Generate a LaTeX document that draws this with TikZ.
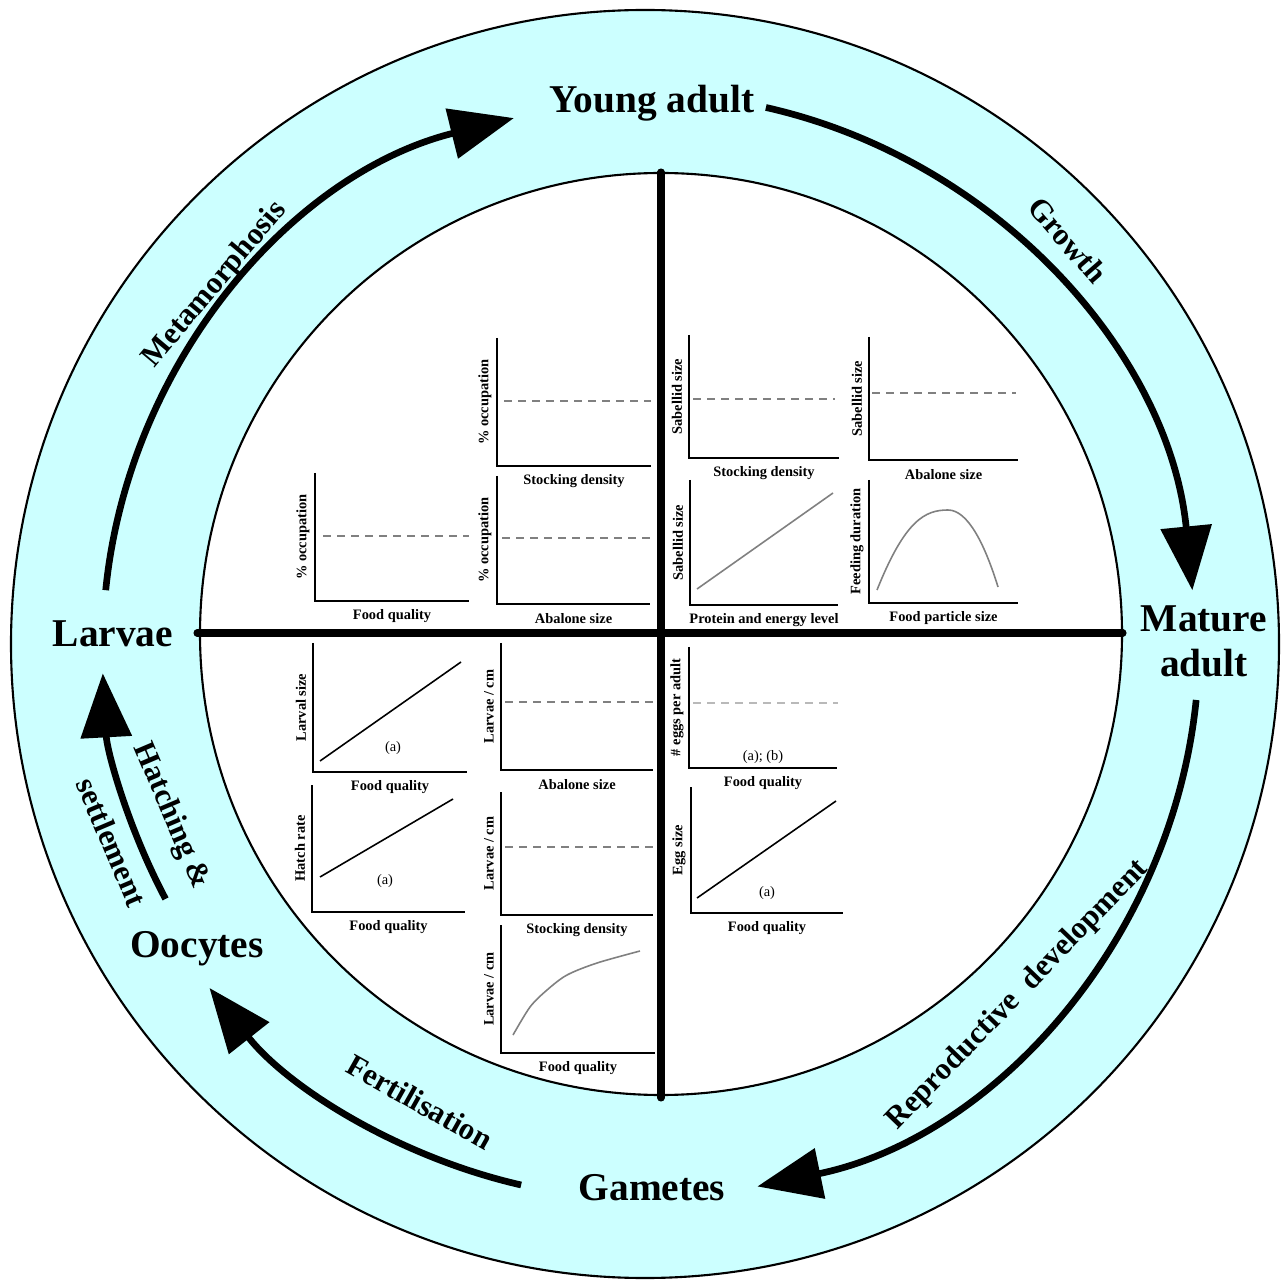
\documentclass[tikz,border=0pt]{standalone}
\usepackage{fontspec}
\setmainfont{Liberation Serif}
\usetikzlibrary{arrows.meta}
\definecolor{ringcyan}{RGB}{204,255,255}

\begin{document}
\begin{tikzpicture}[x=0.01cm, y=-0.01cm,
    stage/.style={font=\fontsize{11.2}{12.8}\selectfont\bfseries, align=center, inner sep=0pt},
    arclab/.style={font=\fontsize{8.8}{10}\selectfont\bfseries, inner sep=0pt},
    xlab/.style={font=\fontsize{4.1}{5}\selectfont\bfseries, inner sep=0pt},
    ylab/.style={xlab, rotate=90},
    note/.style={font=\fontsize{4.1}{5}\selectfont, inner sep=0pt},
    axis/.style={line width=0.55pt},
    flat/.style={line width=0.55pt, gray, dash pattern=on 0.08cm off 0.06cm},
    trend/.style={line width=0.45pt},
    cyc/.style={line width=1.9pt, -{Triangle[length=0.64cm, width=0.5cm]}},
    cross/.style={line width=2pt, line cap=round}]

  \useasboundingbox (0,0) rectangle (1286,1280);

  % rings and quadrants
  \filldraw[fill=ringcyan, line width=0.6pt] (645,644) circle[radius=634];
  \filldraw[fill=white, line width=0.6pt] (661,634) circle[radius=461];
  \draw[cross] (661,172) -- (661,1098);
  \draw[cross] (197,633) -- (1123,633);

  % life stages
  \node[stage, anchor=base] (young) at (652,113) {Young adult};
  \node[stage, anchor=base] (larvae) at (113,647) {Larvae};
  \node[stage] (mature) at (1204,641) {Mature\\adult};
  \node[stage, anchor=base] (oocytes) at (197,957) {Oocytes};
  \node[stage, anchor=base] (gametes) at (652,1200) {Gametes};

  % cycle arrows
  \begin{scope}[shift={(645,644)}]
    \coordinate (meta-s) at (-174.3:542);
    \coordinate (grow-s) at (-77.3:550);
    \coordinate (repro-s) at (5.8:554);
    \coordinate (fert-s) at (102.9:555);
    \coordinate (hatch-s) at (152:543);
  \end{scope}
  \draw[cyc] (meta-s) arc[start angle=-174.3, end angle=-104, radius=542];
  \draw[cyc] (grow-s) arc[start angle=-77.3, end angle=-5.6, radius=550];
  \draw[cyc] (repro-s) arc[start angle=5.8, end angle=78.3, radius=554];
  \draw[cyc] (fert-s) arc[start angle=102.9, end angle=141.7, radius=555];
  \draw[cyc] (hatch-s) arc[start angle=152, end angle=176.9, radius=543];

  \node[arclab, rotate=50] (meta-l) at (215,285) {Metamorphosis};
  \node[arclab, rotate=-49] (grow-l) at (1068,240) {Growth};
  \node[arclab, rotate=46] (repro-l) at (1018,995) {Reproductive\enspace development};
  \node[arclab, rotate=-29.4] (fert-l) at (420,1102) {Fertilisation};
  \node[arclab, rotate=-67] (hatch-l) at (171,816) {Hatching \&};
  \node[arclab, rotate=-67] (settle-l) at (112,842) {settlement};

  % small graphs: name / axis x / axis y / width / height / x label / y label
  \foreach \n/\x/\y/\w/\h/\xl/\yl in {
      occ-sd/497/466/154/128/{Stocking density}/{\% occupation},
      occ-fq/315/601/154/128/{Food quality}/{\% occupation},
      occ-as/497/604/153/128/{Abalone size}/{\% occupation},
      sab-sd/689/458/150/123/{Stocking density}/{Sabellid size},
      sab-as/869/460/149/123/{Abalone size}/{Sabellid size},
      sab-pe/690/605/148/125/{Protein and energy level}/{Sabellid size},
      fd-fp/869/603/149/123/{Food particle size}/{Feeding duration},
      ls-fq/313/772/154/129/{Food quality}/{Larval size},
      lc-as/501/770/152/127/{Abalone size}/{Larvae / cm},
      hr-fq/312/912/153/127/{Food quality}/{Hatch rate},
      lc-sd/501/915/152/123/{Stocking density}/{Larvae / cm},
      lc-fq/501/1053/154/128/{Food quality}/{Larvae / cm},
      egg-fq/689/768/148/121/{Food quality}/{\# eggs per adult},
      es-fq/691/913/152/126/{Food quality}/{Egg size}}
  {
    \draw[axis] (\x,\y-\h) -- (\x,\y) -- (\x+\w,\y);
    \node[xlab] (\n-x) at (\x+\w/2,\y+15) {\xl};
    \node[ylab] (\n-y) at (\x-12,\y-\h/2) {\yl};
  }

  % what each graph shows
  \draw[flat] (504,401) -- (651,401);
  \draw[flat] (323,536) -- (469,536);
  \draw[flat] (502,538) -- (650,538);
  \draw[flat] (693,399) -- (835,399);
  \draw[flat] (872,393) -- (1016,393);
  \draw[trend, gray] (697,589) -- (833,493);
  \draw[trend, gray] (877,590) .. controls (905,520) and (925,510) .. (948,510)
    .. controls (968,510) and (985,545) .. (998,587);
  \draw[trend] (320,761) -- (461,662);
  \node[note] (ls-a) at (393,748) {(a)};
  \draw[flat] (505,702) -- (653,702);
  \draw[trend] (320,877) -- (453,799);
  \node[note] (hr-a) at (385,881) {(a)};
  \draw[flat] (505,847) -- (653,847);
  \draw[trend, gray] plot[smooth] coordinates {(513,1035) (530,1007) (547,990) (567,975) (597,963) (640,951)};
  \draw[flat, gray!55] (693,703) -- (838,703);
  \node[note] (egg-ab) at (763,757) {(a); (b)};
  \draw[trend] (697,898) -- (836,801);
  \node[note] (es-a) at (767,893) {(a)};
\end{tikzpicture}
\end{document}
